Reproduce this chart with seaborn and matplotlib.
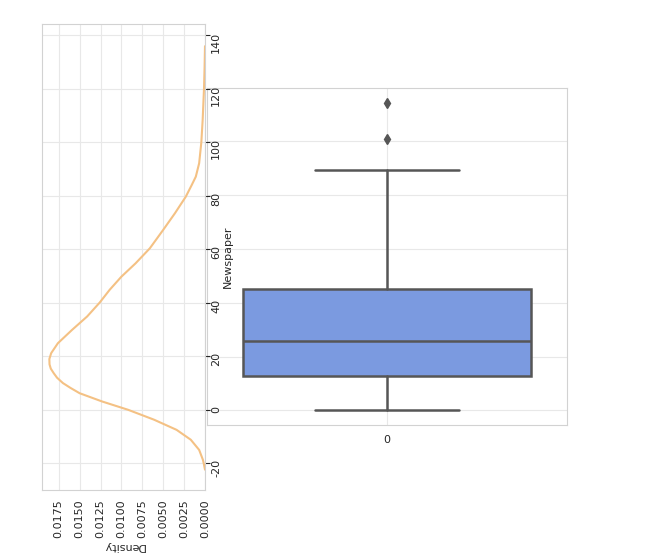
import matplotlib
matplotlib.use('Agg')
import matplotlib.pyplot as plt
import seaborn as sns
import pandas as pd

# box stats of Newspaper
whisker_low = 0.3
q1 = 12.75
median = 25.75
q3 = 45.1
whisker_high = 89.4
outliers = [100.9, 114.0]

# kde curve of Newspaper
kde_newspaper = [-22.4, -20.5, -18.7, -15, -11.2, -7.5, -3.7, 0, 3.1, 6.2, 8.2, 10, 12, 13.7, 15.4, 17, 19, 21.2,
                 24.9, 29.9, 34.9, 40.1, 44.9, 49.8, 54.8, 60.4, 67.3, 73.5, 79.7, 84, 87.2, 92.2, 100,
                 108.4, 120, 128, 136]
kde_density = [0.0, 0.00012, 0.00025, 0.0007, 0.0017, 0.0034, 0.0061, 0.0092, 0.0123, 0.0150, 0.0161,
               0.0170, 0.0177, 0.0181, 0.01845, 0.0186, 0.01862, 0.0184, 0.0176, 0.0159, 0.0141, 0.0126,
               0.0114, 0.0100, 0.0083, 0.0066, 0.0050, 0.0036, 0.0023, 0.0016, 0.0011, 0.0007, 0.00044,
               0.00028, 0.00012, 0.00005, 0.0]

density_ticks = [0.0, 0.0025, 0.005, 0.0075, 0.01, 0.0125, 0.015, 0.0175]
newspaper_ticks = [-20, 0, 20, 40, 60, 80, 100, 120, 140]

sns.set_style('whitegrid', {'grid.color': '#e8e8e8', 'axes.edgecolor': '#d2d2d2'})
plt.rcParams['font.family'] = ['DejaVu Sans']
plt.rcParams['font.size'] = 8

kde_df = pd.DataFrame({'Newspaper': kde_newspaper, 'density': kde_density})

fig = plt.figure(figsize=(6.64, 5.54), dpi=100)

# box plot on the right
ax_box = fig.add_axes([207/664, 1 - 425/554, 360/664, 337/554])
stats = [{'whislo': whisker_low, 'q1': q1, 'med': median, 'q3': q3,
          'whishi': whisker_high, 'fliers': outliers}]
line_c = '#565656'
ax_box.bxp(stats, positions=[0], widths=0.8, patch_artist=True,
           boxprops=dict(facecolor='#7b9ae0', edgecolor=line_c, linewidth=1.8),
           whiskerprops=dict(color=line_c, linewidth=1.8),
           capprops=dict(color=line_c, linewidth=1.8),
           medianprops=dict(color=line_c, linewidth=1.8),
           flierprops=dict(marker='d', markerfacecolor=line_c, markeredgecolor=line_c, markersize=5))
ax_box.set_xlim(-0.5, 0.5)
ax_box.set_xticks([0])
ax_box.set_xticklabels(['0'], fontsize=8)
ax_box.tick_params(axis='y', labelleft=False)
ax_box.set_ylabel('')

# rotated kde on the left
ax_kde = fig.add_axes([42/664, 1 - 490/554, 163/664, 466/554])
sns.lineplot(data=kde_df, x='density', y='Newspaper', orient='y', estimator=None,
             color='#f4c184', linewidth=1.5, ax=ax_kde)
ax_kde.set_xlim(0.0195, 0)
ax_kde.set_ylim(-30, 144.3)
ax_kde.set_xticks(density_ticks)
ax_kde.set_xticklabels([f'{d:.4f}' for d in density_ticks], rotation=90, fontsize=8)
ax_kde.set_yticks(newspaper_ticks)
ax_kde.yaxis.tick_right()
ax_kde.set_yticklabels([str(t) for t in newspaper_ticks], rotation=90, fontsize=8)
ax_kde.tick_params(axis='y', pad=1)
ax_kde.yaxis.set_label_position('right')
ax_kde.set_ylabel('Newspaper', fontsize=8, labelpad=1)
ax_kde.set_xlabel('Density', rotation=180, fontsize=8, labelpad=2)

fig.savefig('out.png', dpi=100)
